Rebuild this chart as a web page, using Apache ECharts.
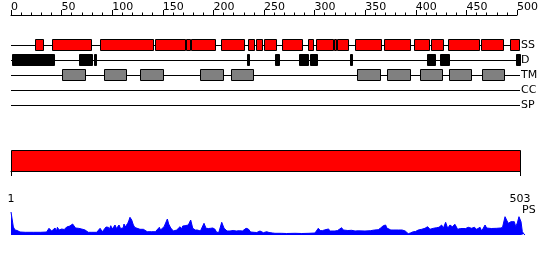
<!DOCTYPE html>
<html><head><meta charset="utf-8">
<script src="https://cdn.jsdelivr.net/npm/echarts@6/dist/echarts.min.js"></script>
<style>html,body{margin:0;padding:0;background:#fff}#c{width:550px;height:260px}</style>
</head><body><div id="c"></div>
<script>
// ---- data ----
const trackNames = ['SS', 'D', 'TM', 'CC', 'SP'];
const seqLength = 503;
const ssSegments = [[24,32],[41,79],[88,140],[142,172],[173,177],[178,202],[208,230],[234,240],[242,248],[250,262],[268,288],[293,298],[301,318],[319,321],[322,333],[340,366],[369,394],[398,413],[415,427],[432,462],[464,486],[493,502]];
const dSegments = [[1,42],[67,80],[82,84],[233,235],[261,265],[285,293],[295,302],[335,337],[411,419],[424,433],[499,503]];
const tmSegments = [[50,73],[92,114],[127,150],[187,209],[217,239],[342,365],[372,394],[404,426],[433,455],[465,487]];
const domainBar = [[1,503]];
const bottomTicks = [1, 503];
const psProfile = [[1,23],[2,22],[3.3,8],[4.9,5],[7,4.5],[9.8,3],[15,2.7],[22.8,2.7],[30,2.7],[35.8,3],[38.1,6.7],[40.7,4],[44,7],[45.5,4],[46.3,7.7],[48,5],[50.5,6],[53,5.5],[55.4,8],[57,6.5],[58.6,9],[60,7],[61.2,11],[62.5,10],[64,7],[66.8,6.7],[70,6],[73.3,5],[75,3.5],[76.5,2.7],[80,2.7],[84.7,2.7],[88,6.7],[90.2,3.3],[92,4],[93.8,8],[95,6],[96.1,7.7],[97,5.5],[98.4,9.3],[100,6],[101,7.3],[102.6,10],[104,6.5],[104.9,8],[106.5,10],[108,6.5],[109.1,7.3],[110.5,7],[111.4,11],[112.5,8],[113.3,9.3],[114,8],[115,11.7],[116,14],[117.2,17.7],[118.9,15],[120.5,10],[122,7.5],[123.8,6.7],[127,5.7],[130.3,5.7],[134,3.3],[138.4,3.3],[142,3.3],[145.9,7.7],[147,5],[148.2,4],[150.5,8.3],[152,9],[153.7,16],[155,11],[155.7,9.3],[157,7],[158,9],[159.6,4],[161,4.5],[162.8,5],[164.5,6.5],[166.1,8.3],[167.5,6],[168.7,9],[170,7],[171,9.3],[172.6,7.7],[174.2,10],[175.5,12],[176.5,15],[178.5,6.7],[181,5],[183,5],[186,4],[189.5,11.7],[191.5,6.7],[194,6.5],[196,6.7],[198,7],[200,6],[201.9,2.7],[204,2.7],[206.8,12.7],[208,11],[209.1,6.7],[212,4],[214.9,4],[218,4.5],[221,4],[224,4.3],[227,4],[230.6,6.7],[232,5],[232.8,6],[235,3],[238.4,2.7],[241,2.5],[244.2,4],[246,2.5],[247.5,2.3],[250.7,3.3],[253,2.5],[256.6,2],[258.8,1.7],[265,1.7],[270,1.5],[278.3,1.7],[285,1.5],[292,1.7],[297.9,2],[301.1,6.7],[303,4.5],[305,4.3],[307,5],[310.9,6],[313,4],[317.4,4],[320,4.5],[323.9,7.3],[325.5,5],[327.2,5.7],[330,4.5],[333.7,4.7],[337,4],[340,4.2],[346.7,4],[352,4.3],[356,5],[359.7,5.3],[362,7],[364.6,9.3],[366.9,10],[368,7],[369.5,6.7],[372,5],[375,5],[379.3,5],[383,5],[386,4],[389,1.3],[391,2],[393.9,3.3],[396,3.5],[398.8,5],[402.1,5.7],[405.3,6.7],[407.9,8.3],[410.2,5.7],[412,6],[413.5,6.7],[415,5.5],[416.7,7.3],[419,7.7],[421.6,10],[423.2,6.7],[425.5,12.7],[427.5,6.7],[429.7,10],[432,8.3],[434.6,10.7],[437.2,5.7],[440,6.5],[441.8,6.7],[445,6.5],[447.6,7.7],[450.9,6.7],[453.5,7.7],[455.8,5.7],[457.5,6],[459.1,7.7],[460.7,4],[464,10],[465.5,7],[467.2,6.7],[470,6.5],[475.3,6.7],[479,7],[481,7.5],[483.5,18.3],[485,15],[486.7,11.7],[489.3,13.3],[491,13.3],[492.6,13.3],[493.9,8.3],[495.5,12],[497.1,18.3],[499.1,13.3],[500.4,3.3],[502,1],[503,0]];

// ---- chart ----
const FONT = 'DejaVu Sans';
const rowOf = {SS:2, D:3, TM:4, CC:5, SP:6};
const crisp = v => Math.round(v) + 0.5;

function boxSeries(segs, row, fill, h) {
  return {
    type: 'custom', xAxisIndex: 0, yAxisIndex: 0, z: 3, clip: false,
    data: segs.map(s => [s[0], s[1], row]),
    renderItem: function (params, api) {
      const a = api.coord([api.value(0), api.value(2)]);
      const b = api.coord([api.value(1), api.value(2)]);
      const x0 = crisp(a[0]), x1 = crisp(b[0]);
      const yc = crisp(a[1]);
      return {type: 'rect', shape: {x: x0, y: yc - h / 2 - 0.5, width: Math.max(1, x1 - x0), height: h},
        style: {fill: fill, stroke: '#000', lineWidth: 1}};
    }
  };
}

const trackLines = {
  type: 'custom', xAxisIndex: 0, yAxisIndex: 0, z: 2, clip: false,
  data: trackNames.map(n => [0, seqLength, rowOf[n]]),
  renderItem: function (params, api) {
    const a = api.coord([api.value(0), api.value(2)]);
    const b = api.coord([api.value(1), api.value(2)]);
    const y = crisp(a[1]);
    return {type: 'line', shape: {x1: Math.round(a[0]), y1: y, x2: Math.round(b[0]), y2: y},
      style: {stroke: '#000', lineWidth: 1}};
  }
};

const barSeries = {
  type: 'custom', xAxisIndex: 1, yAxisIndex: 1, clip: false,
  data: domainBar,
  renderItem: function (params, api) {
    const cs = params.coordSys;
    const a = api.coord([api.value(0), 0]);
    const b = api.coord([api.value(1), 0]);
    return {type: 'rect', shape: {x: crisp(a[0]), y: crisp(cs.y), width: Math.round(b[0] - a[0]), height: Math.round(cs.height)},
      style: {fill: '#ff0000', stroke: '#000', lineWidth: 1}};
  }
};

const chart = echarts.init(document.getElementById('c'), null, {renderer: 'canvas'});
chart.setOption({
  animation: false,
  backgroundColor: '#fff',
  textStyle: {fontFamily: FONT},
  grid: [
    {left: 11, right: 33, top: 15, height: 90},
    {left: 11, right: 30, top: 150, height: 21},
    {left: 11, right: 25, top: 205, height: 30}
  ],
  xAxis: [
    {gridIndex: 0, type: 'value', position: 'top', min: 0, max: 500, interval: 50,
      axisLine: {show: true, lineStyle: {color: '#000', width: 1}},
      axisTick: {show: true, length: 5, lineStyle: {color: '#000'}},
      minorTick: {show: true, splitNumber: 5, length: 2.5, lineStyle: {color: '#000'}},
      axisLabel: {show: true, align: 'left', margin: 2, color: '#000', fontSize: 11, fontFamily: FONT},
      splitLine: {show: false}, minorSplitLine: {show: false}},
    {gridIndex: 1, type: 'value', position: 'bottom', min: 1, max: seqLength, offset: 9,
      axisLine: {show: true, lineStyle: {color: '#000', width: 1}},
      axisTick: {show: true, length: 5, customValues: bottomTicks, lineStyle: {color: '#000'}},
      axisLabel: {show: true, customValues: bottomTicks, margin: 14, color: '#000', fontSize: 11, fontFamily: FONT},
      splitLine: {show: false}},
    {gridIndex: 2, type: 'value', min: 1, max: seqLength, show: false}
  ],
  yAxis: [
    {gridIndex: 0, type: 'value', position: 'right', min: 0, max: 6, interval: 1, inverse: true,
      axisLine: {show: false}, axisTick: {show: false}, splitLine: {show: false},
      axisLabel: {show: true, margin: 4, align: 'left', color: '#000', fontSize: 11, fontFamily: FONT,
        formatter: v => trackNames[v - 2] || ''}},
    {gridIndex: 1, type: 'value', min: 0, max: 1, show: false},
    {gridIndex: 2, type: 'value', min: 0, max: 30, show: false}
  ],
  graphic: [
    {type: 'text', left: 522, top: 205, style: {text: 'PS', font: '11px "DejaVu Sans"', fill: '#000'}}
  ],
  series: [
    trackLines,
    boxSeries(ssSegments, rowOf.SS, '#ff0000', 11),
    boxSeries(dSegments, rowOf.D, '#000000', 11),
    boxSeries(tmSegments, rowOf.TM, '#808080', 11),
    barSeries,
    {type: 'line', xAxisIndex: 2, yAxisIndex: 2, data: psProfile, showSymbol: false, symbol: 'none',
      lineStyle: {color: '#0000ff', width: 1}, areaStyle: {color: '#0000ff', opacity: 1}, clip: false}
  ]
});
</script>
</body></html>
